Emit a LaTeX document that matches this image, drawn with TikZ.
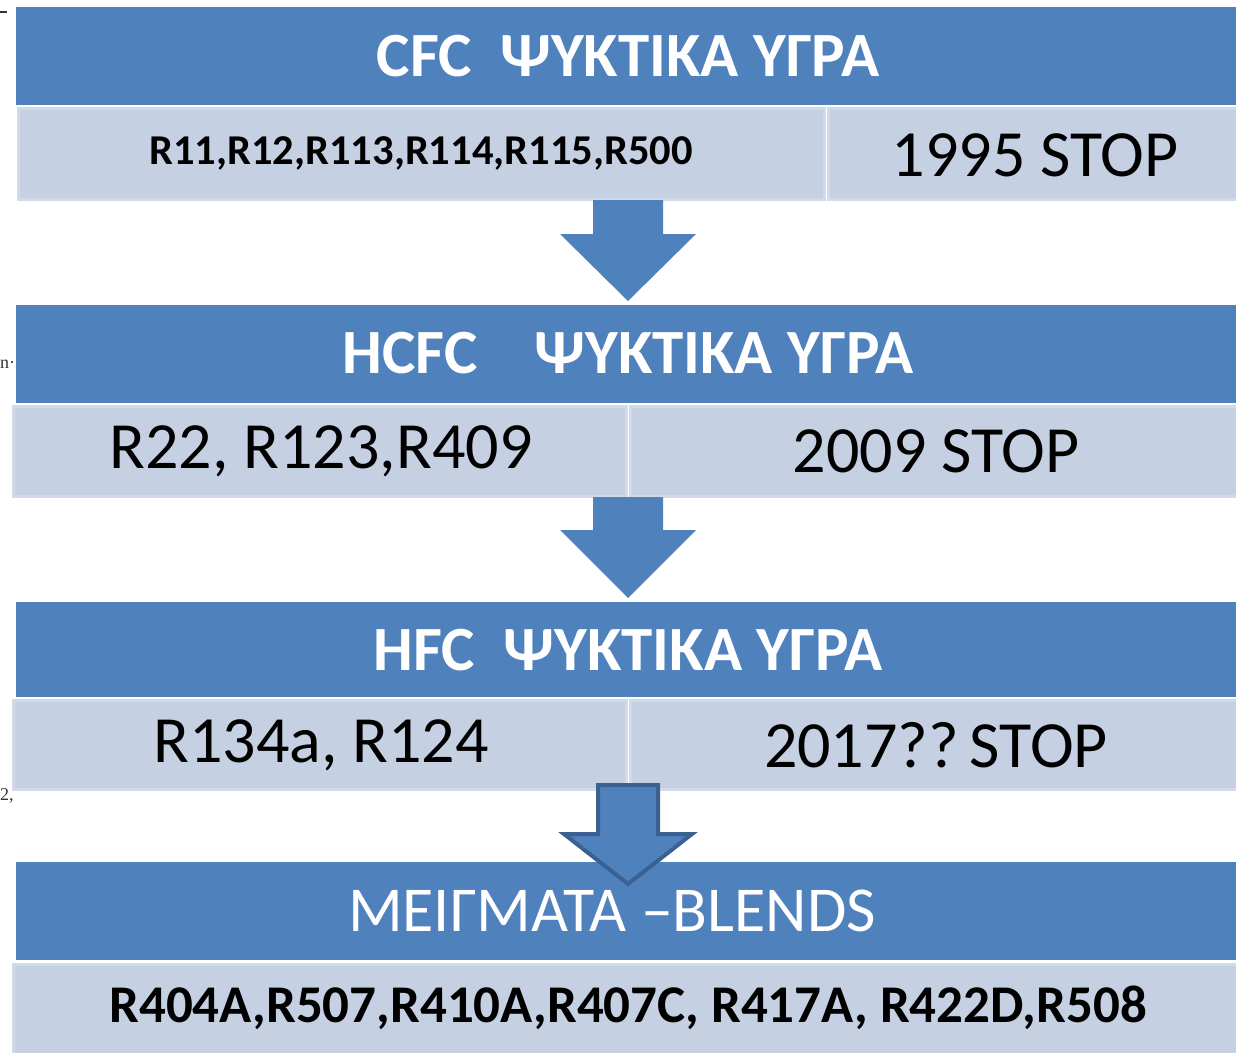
\documentclass[tikz,border=0pt]{standalone}
\usepackage{fontspec}
\setmainfont{Carlito}
\newfontfamily\serifpart{Liberation Serif}
\definecolor{hdr}{HTML}{4F81BD}
\definecolor{cell}{HTML}{C5D0E3}
\definecolor{cellrim}{HTML}{D2DAEA}
\definecolor{arrowrim}{HTML}{3A6192}
\begin{document}
\begin{tikzpicture}[x=1pt,y=-1pt,
  header/.style={fill=hdr, draw=none},
  cellbox/.style={fill=cell, draw=cellrim, line width=3pt},
  htext/.style={text=white, font=\bfseries\fontsize{63}{63}\selectfont, inner sep=0pt},
  big/.style={text=black, font=\fontsize{66}{66}\selectfont, inner sep=0pt},
  blockarrow/.style={fill=hdr, draw=none},
  margintext/.style={font=\serifpart\fontsize{18}{18}\selectfont, inner sep=0pt, text=black!80}
]
\useasboundingbox (0,0) rectangle (1236,1052);
\fill[white] (0,0) rectangle (1236,1052);

% margin fragments
\node[margintext, anchor=west] (m1) at (-2,12) {\rule{9pt}{1.5pt}};
\node[margintext, anchor=west] (m2) at (0,364) {n\textperiodcentered};
\node[margintext, anchor=west] (m3) at (0,796) {2,};

% Band 1
\fill[header] (16,7) rectangle (1236,105);
\node[htext] (h1) at (628,56) {CFC\ \ ΨΥΚΤΙΚΑ ΥΓΡΑ};
\draw[cellbox] (18,108) rectangle (824,199);
\draw[cellbox] (828,108) rectangle (1240,199);
\node[font=\bfseries\fontsize{42.5}{42.5}\selectfont, inner sep=0pt] (c1a) at (421,153) {R11,R12,R113,R114,R115,R500};
\node[big] (c1b) at (1035,155) {1995 STOP};

% Arrow 1
\fill[blockarrow] (593,200) -- (663,200) -- (663,234) -- (696,234) -- (628,301) -- (560,234) -- (593,234) -- cycle;

% Band 2
\fill[header] (16,305) rectangle (1236,403);
\node[htext] (h2) at (628,353) {HCFC\ \ \ \ ΨΥΚΤΙΚΑ ΥΓΡΑ};
\draw[cellbox] (13,406) rectangle (626,496);
\draw[cellbox] (630,406) rectangle (1240,496);
\node[big] (c2a) at (321,451) {R22, R123,R409};
\node[big] (c2b) at (936,451) {2009 STOP};

% Arrow 2
\fill[blockarrow] (593,497) -- (663,497) -- (663,530) -- (696,530) -- (628,598) -- (560,530) -- (593,530) -- cycle;

% Band 3
\fill[header] (16,602) rectangle (1236,697);
\node[htext] (h3) at (628,650) {HFC\ \ ΨΥΚΤΙΚΑ ΥΓΡΑ};
\draw[cellbox] (13,700) rectangle (626,789);
\draw[cellbox] (630,700) rectangle (1240,789);
\node[big] (c3a) at (321,745) {R134a, R124};
\node[big] (c3b) at (936,745) {2017??\,STOP};

% Band 4
\fill[header] (16,862) rectangle (1236,960);
\node[text=white, font=\fontsize{64}{64}\selectfont, inner sep=0pt] (h4) at (612,911) {ΜΕΙΓΜΑΤΑ –BLENDS};
\draw[cellbox] (13,964) rectangle (1240,1056);
\node[font=\bfseries\fontsize{53}{53}\selectfont, inner sep=0pt] (c4) at (628,1008) {R404A,R507,R410A,R407C, R417A, R422D,R508};

% Arrow 3 (outlined)
\draw[fill=hdr, draw=arrowrim, line width=4pt, line join=miter]
  (598,785) -- (658,785) -- (658,834) -- (692,834) -- (628,884) -- (564,834) -- (598,834) -- cycle;
\end{tikzpicture}
\end{document}
